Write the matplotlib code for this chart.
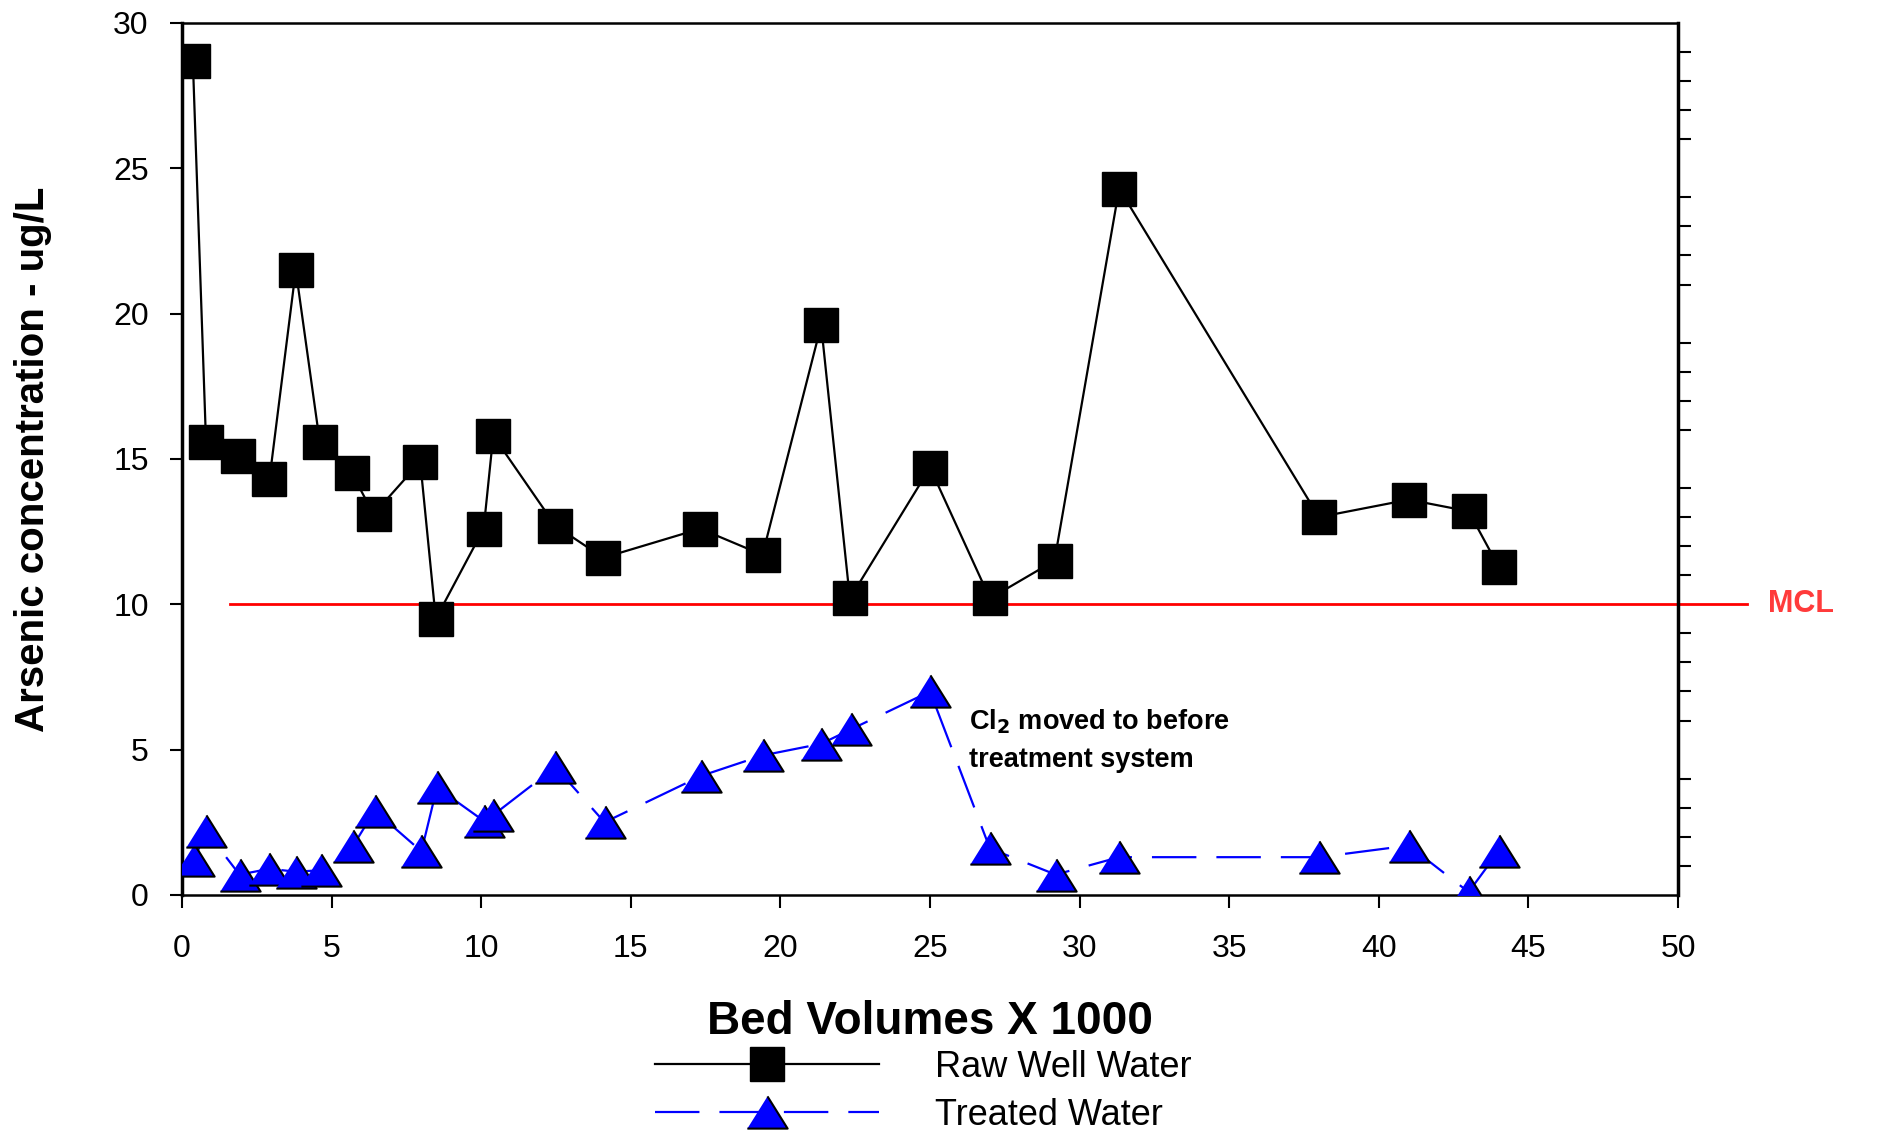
import numpy as np
import matplotlib.pyplot as plt
from matplotlib.ticker import MultipleLocator

plt.rcParams['font.family'] = ['Liberation Sans', 'DejaVu Sans']

# Raw well water (bed volumes x 1000, arsenic ug/L)
raw_bv = [0.36, 0.8, 1.88, 2.92, 3.8, 4.6, 5.68, 6.4, 7.96, 8.48, 10.08, 10.4, 12.48,
          14.08, 17.32, 19.4, 21.36, 22.32, 25.0, 27.0, 29.16, 31.32, 38.0, 41.0, 43.0, 44.0]
raw_as = [28.7, 15.6, 15.1, 14.3, 21.5, 15.6, 14.5, 13.1, 14.9, 9.5, 12.6, 15.8, 12.7,
          11.6, 12.6, 11.7, 19.6, 10.2, 14.7, 10.2, 11.5, 24.3, 13.0, 13.6, 13.2, 11.3]

# Treated water
trt_bv = [0.4, 0.8, 1.92, 2.92, 3.8, 4.64, 5.72, 6.44, 8.0, 8.52, 10.08, 10.4, 12.48,
          14.12, 17.36, 19.4, 21.36, 22.36, 25.0, 27.0, 29.2, 31.32, 38.0, 41.0, 43.0, 44.0]
trt_as = [1.2, 2.2, 0.7, 0.9, 0.8, 0.85, 1.7, 2.9, 1.5, 3.7, 2.55, 2.75, 4.4,
          2.5, 4.1, 4.8, 5.2, 5.7, 7.0, 1.6, 0.7, 1.3, 1.3, 1.7, 0.1, 1.5]

mcl_x = [1.6, 52.3]
mcl_y = [10, 10]

fig = plt.figure(figsize=(18.77, 11.31), dpi=100)
ax = fig.add_axes([0.097, 0.2087, 0.797, 0.771])

tri = [(-1, -0.8), (1, -0.8), (0, 0.8)]

ax.plot(mcl_x, mcl_y, color='red', lw=2, clip_on=False, zorder=2)
ax.plot(raw_bv, raw_as, color='black', lw=1.6, marker='s', markersize=25,
        markerfacecolor='black', markeredgecolor='black', label='Raw Well Water', zorder=3)
ax.plot(trt_bv, trt_as, color='blue', lw=1.6, linestyle=(0, (20, 9)), marker=tri,
        markersize=29, markerfacecolor='blue', markeredgecolor='black', markeredgewidth=1.5,
        label='Treated Water', zorder=4)

ax.set_xlim(0, 50)
ax.set_ylim(0, 30)
ax.xaxis.set_major_locator(MultipleLocator(5))
ax.yaxis.set_major_locator(MultipleLocator(5))
ax.yaxis.set_minor_locator(MultipleLocator(1))
ax.tick_params(which='major', direction='out', length=9, width=1.5, labelsize=23,
               top=False, right=False)
ax.tick_params(axis='x', which='major', pad=19)
ax.tick_params(axis='y', which='major', pad=15)
ax.tick_params(which='minor', direction='out', length=9, width=1.5, left=False, right=True)
ax.tick_params(axis='x', which='minor', bottom=False)

for side in ['left', 'right']:
    ax.spines[side].set_linewidth(2.5)
for side in ['top', 'bottom']:
    ax.spines[side].set_linewidth(1.8)

ax.set_xlabel('Bed Volumes X 1000', fontsize=33, fontweight='bold', labelpad=26)
ax.set_ylabel('Arsenic concentration - ug/L', fontsize=29, fontweight='bold', labelpad=44)

ax.text(53.0, 10, 'MCL', color='#FF3b3b', fontsize=22, fontweight='bold',
        ha='left', va='center', clip_on=False)
ax.text(26.3, 6.45, 'Cl$_\\mathbf{2}$ moved to before\ntreatment system', fontsize=19.5,
        fontweight='bold', ha='left', va='top', linespacing=1.55)

fig.legend(loc='center left', bbox_to_anchor=(0.349, 0.035), frameon=False, fontsize=26,
           handlelength=6.2, handletextpad=1.55, labelspacing=0.36, numpoints=1,
           borderpad=0, borderaxespad=0)

fig.savefig('out.png', dpi=100)
